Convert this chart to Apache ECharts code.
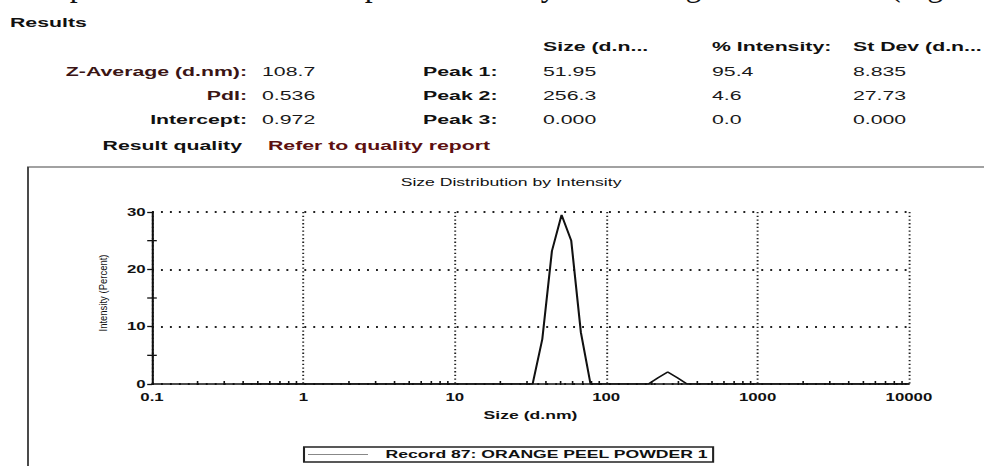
<!DOCTYPE html>
<html>
<head>
<meta charset="utf-8">
<script src="https://cdn.jsdelivr.net/npm/echarts@6/dist/echarts.min.js"></script>
<style>
  html, body { margin: 0; padding: 0; background: #ffffff; overflow: hidden; }
  #stage { width: 984px; height: 466px; overflow: hidden; position: relative; }
  /* the reference is a horizontally stretched screenshot: draw narrow, stretch */
  #chart { width: 615px; height: 466px; transform: scaleX(1.6); transform-origin: 0 0; }
</style>
</head>
<body>
<div id="stage"><div id="chart"></div></div>
<script>
// ---- data ----
const sizeBins = [0.4, 0.4632, 0.5365, 0.6213, 0.7195, 0.8332, 0.9649, 1.117, 1.294, 1.499,
  1.736, 2.010, 2.328, 2.696, 3.122, 3.615, 4.187, 4.849, 5.615, 6.503,
  7.531, 8.721, 10.10, 11.70, 13.54, 15.69, 18.17, 21.04, 24.36, 28.21,
  32.67, 37.84, 43.82, 50.75, 58.77, 68.06, 78.82, 91.28, 105.7, 122.4,
  141.8, 164.2, 190.1, 220.2, 255.0, 295.3, 342.0, 396.1, 458.7, 531.2,
  615.1, 712.4, 825.0, 955.4, 1106, 1281, 1484, 1718, 1990, 2305,
  2669, 3091, 3580, 4145, 4801, 5560, 6439, 7456, 8635, 10000];
const intensityPct = [0, 0, 0, 0, 0, 0, 0, 0, 0, 0,
  0, 0, 0, 0, 0, 0, 0, 0, 0, 0,
  0, 0, 0, 0, 0, 0, 0, 0, 0, 0,
  0, 7.8, 23.2, 29.5, 25.0, 9.0, 0, 0, 0, 0,
  0, 0, 0, 1.1, 2.1, 1.1, 0, 0, 0, 0,
  0, 0, 0, 0, 0, 0, 0, 0, 0, 0,
  0, 0, 0, 0, 0, 0, 0, 0, 0, 0];
const seriesName = 'Record 87: ORANGE PEEL POWDER 1';
const xMinorTicks = [0.2, 0.3, 0.4, 0.5, 0.6, 0.7, 0.8, 0.9,
  2, 3, 4, 5, 6, 7, 8, 9,
  20, 30, 40, 50, 60, 70, 80, 90,
  200, 300, 400, 500, 600, 700, 800, 900,
  2000, 3000, 4000, 5000, 6000, 7000, 8000, 9000];
const yMinorTicks = [5, 15, 25];

const summaryLabels = ['Z-Average (d.nm):', 'PdI:', 'Intercept:'];
const summaryValues = ['108.7', '0.536', '0.972'];
const peakLabels = ['Peak 1:', 'Peak 2:', 'Peak 3:'];
const peakHeaders = ['Size (d.n...', '% Intensity:', 'St Dev (d.n...'];
const peakSize = ['51.95', '256.3', '0.000'];
const peakIntensity = ['95.4', '4.6', '0.0'];
const peakStDev = ['8.835', '27.73', '0.000'];
const topSentence = 'The particle size of the sample was mostly in the range of 30-80 nm (Figure';

// ---- layout (in unstretched px) ----
const FONT = '"Liberation Sans", Arial, Helvetica, sans-serif';
const rowsY = [71.5, 96, 119.5];
const headerY = 47;
const labelRight = 154.4, valueX = 163.75, peakX = 264.4;
const colX = [339.4, 445, 533.1];
const dark = '#111111', maroon = '#3b1515';

const g = [];
g.push({ type: 'text', x: 12 / 1.6, y: 1, scaleX: 1 / 1.6, silent: true,
  style: { text: topSentence, font: '32px "Liberation Serif", "DejaVu Serif", serif', fill: '#111', verticalAlign: 'bottom' } });
g.push({ type: 'text', x: 6.25, y: 23, style: { text: 'Results', font: 'bold 13.3px ' + FONT, fill: dark, verticalAlign: 'middle' } });
summaryLabels.forEach((t, i) => {
  g.push({ type: 'text', x: labelRight, y: rowsY[i], style: { text: t, font: 'bold 13.3px ' + FONT, fill: i < 2 ? maroon : dark, align: 'right', verticalAlign: 'middle' } });
  g.push({ type: 'text', x: valueX, y: rowsY[i], style: { text: summaryValues[i], font: '13.3px ' + FONT, fill: '#1a1a1a', verticalAlign: 'middle' } });
  g.push({ type: 'text', x: peakX, y: rowsY[i], style: { text: peakLabels[i], font: 'bold 13.3px ' + FONT, fill: dark, verticalAlign: 'middle' } });
  [peakSize, peakIntensity, peakStDev].forEach((arr, c) => {
    g.push({ type: 'text', x: colX[c], y: rowsY[i], style: { text: arr[i], font: '13.3px ' + FONT, fill: '#1a1a1a', verticalAlign: 'middle' } });
  });
});
peakHeaders.forEach((t, c) => {
  g.push({ type: 'text', x: colX[c], y: headerY, style: { text: t, font: 'bold 13.3px ' + FONT, fill: dark, verticalAlign: 'middle' } });
});
g.push({ type: 'text', x: 151.25, y: 145.5, style: { text: 'Result quality', font: 'bold 13.3px ' + FONT, fill: dark, align: 'right', verticalAlign: 'middle' } });
g.push({ type: 'text', x: 167.5, y: 145.5, style: { text: 'Refer to quality report', font: 'bold 13.3px ' + FONT, fill: '#5c1010', verticalAlign: 'middle' } });
// frame around the chart
g.push({ type: 'rect', silent: true, shape: { x: 17.5, y: 167, width: 700, height: 400 }, style: { fill: 'none', stroke: '#444', lineWidth: 1.2 } });
// chart title
g.push({ type: 'text', x: 319.4, y: 182, style: { text: 'Size Distribution by Intensity', font: '11px ' + FONT, fill: dark, align: 'center', verticalAlign: 'middle' } });
// y axis name (condensed, rotated)
g.push({ type: 'text', x: 64.6, y: 293, rotation: Math.PI / 2, scaleY: 0.72,
  style: { text: 'Intensity (Percent)', font: '9.5px ' + FONT, fill: dark, align: 'center', verticalAlign: 'middle' } });

const chart = echarts.init(document.getElementById('chart'), null, { renderer: 'svg' });
chart.setOption({
  animation: false,
  backgroundColor: '#ffffff',
  graphic: g,
  grid: { left: 95, right: 46.9, top: 212, bottom: 82, containLabel: false },
  legend: {
    data: [seriesName], left: 190, top: 447, orient: 'horizontal',
    borderColor: '#222', borderWidth: 1.3, borderRadius: 0,
    padding: [2, 3, 2, 2.5], itemWidth: 37.5, itemHeight: 1.2, itemGap: 0,
    icon: 'rect',
    itemStyle: { color: '#888', borderWidth: 0 },
    textStyle: { fontFamily: FONT, fontSize: 11, lineHeight: 11, fontWeight: 'bold', color: dark, padding: [0, 0, 0, 6] }
  },
  xAxis: {
    type: 'log', logBase: 10, min: 0.1, max: 10000,
    name: 'Size (d.nm)', nameLocation: 'middle', nameGap: 26,
    nameTextStyle: { fontFamily: FONT, fontSize: 11, fontWeight: 'bold', color: dark },
    axisLine: { show: true, onZero: false, lineStyle: { color: '#111', width: 1.5 } },
    axisTick: { show: false },
    axisLabel: { fontFamily: FONT, fontSize: 10.5, fontWeight: 'bold', color: dark, margin: 8,
      formatter: v => String(+Number(v).toPrecision(6)) },
    splitLine: { show: true, lineStyle: { color: '#222', width: 1.2, type: [1.3, 2.4] } }
  },
  yAxis: {
    type: 'value', min: 0, max: 30, interval: 10,
    axisLine: { show: true, lineStyle: { color: '#111', width: 1.3 } },
    axisTick: { show: true, length: 3, lineStyle: { color: '#111', width: 1.3 } },
    axisLabel: { fontFamily: FONT, fontSize: 10.5, fontWeight: 'bold', color: dark, margin: 4 },
    splitLine: { show: true, lineStyle: { color: '#222', width: 1.8, type: [1.2, 4.4] } }
  },
  series: [
    {
      name: seriesName, type: 'line', symbol: 'none', showSymbol: false, z: 5,
      data: sizeBins.map((s, i) => [s, intensityPct[i]]),
      lineStyle: { color: '#111', width: 1.3 }, itemStyle: { color: '#111' }
    },
    {
      name: 'xMinor', type: 'custom', silent: true, z: 4,
      data: xMinorTicks.map(v => [v, 0]),
      renderItem: (params, api) => {
        const p = api.coord([api.value(0), api.value(1)]);
        return { type: 'line', shape: { x1: p[0], y1: p[1] - 3, x2: p[0], y2: p[1] + 1 }, style: { stroke: '#111', lineWidth: 1 } };
      }
    },
    {
      name: 'yMinor', type: 'custom', silent: true, z: 4,
      data: yMinorTicks.map(v => [0.1, v]),
      renderItem: (params, api) => {
        const p = api.coord([api.value(0), api.value(1)]);
        return { type: 'line', shape: { x1: p[0] - 3, y1: p[1], x2: p[0] + 3, y2: p[1] }, style: { stroke: '#111', lineWidth: 1.3 } };
      }
    }
  ]
});
</script>
</body>
</html>
